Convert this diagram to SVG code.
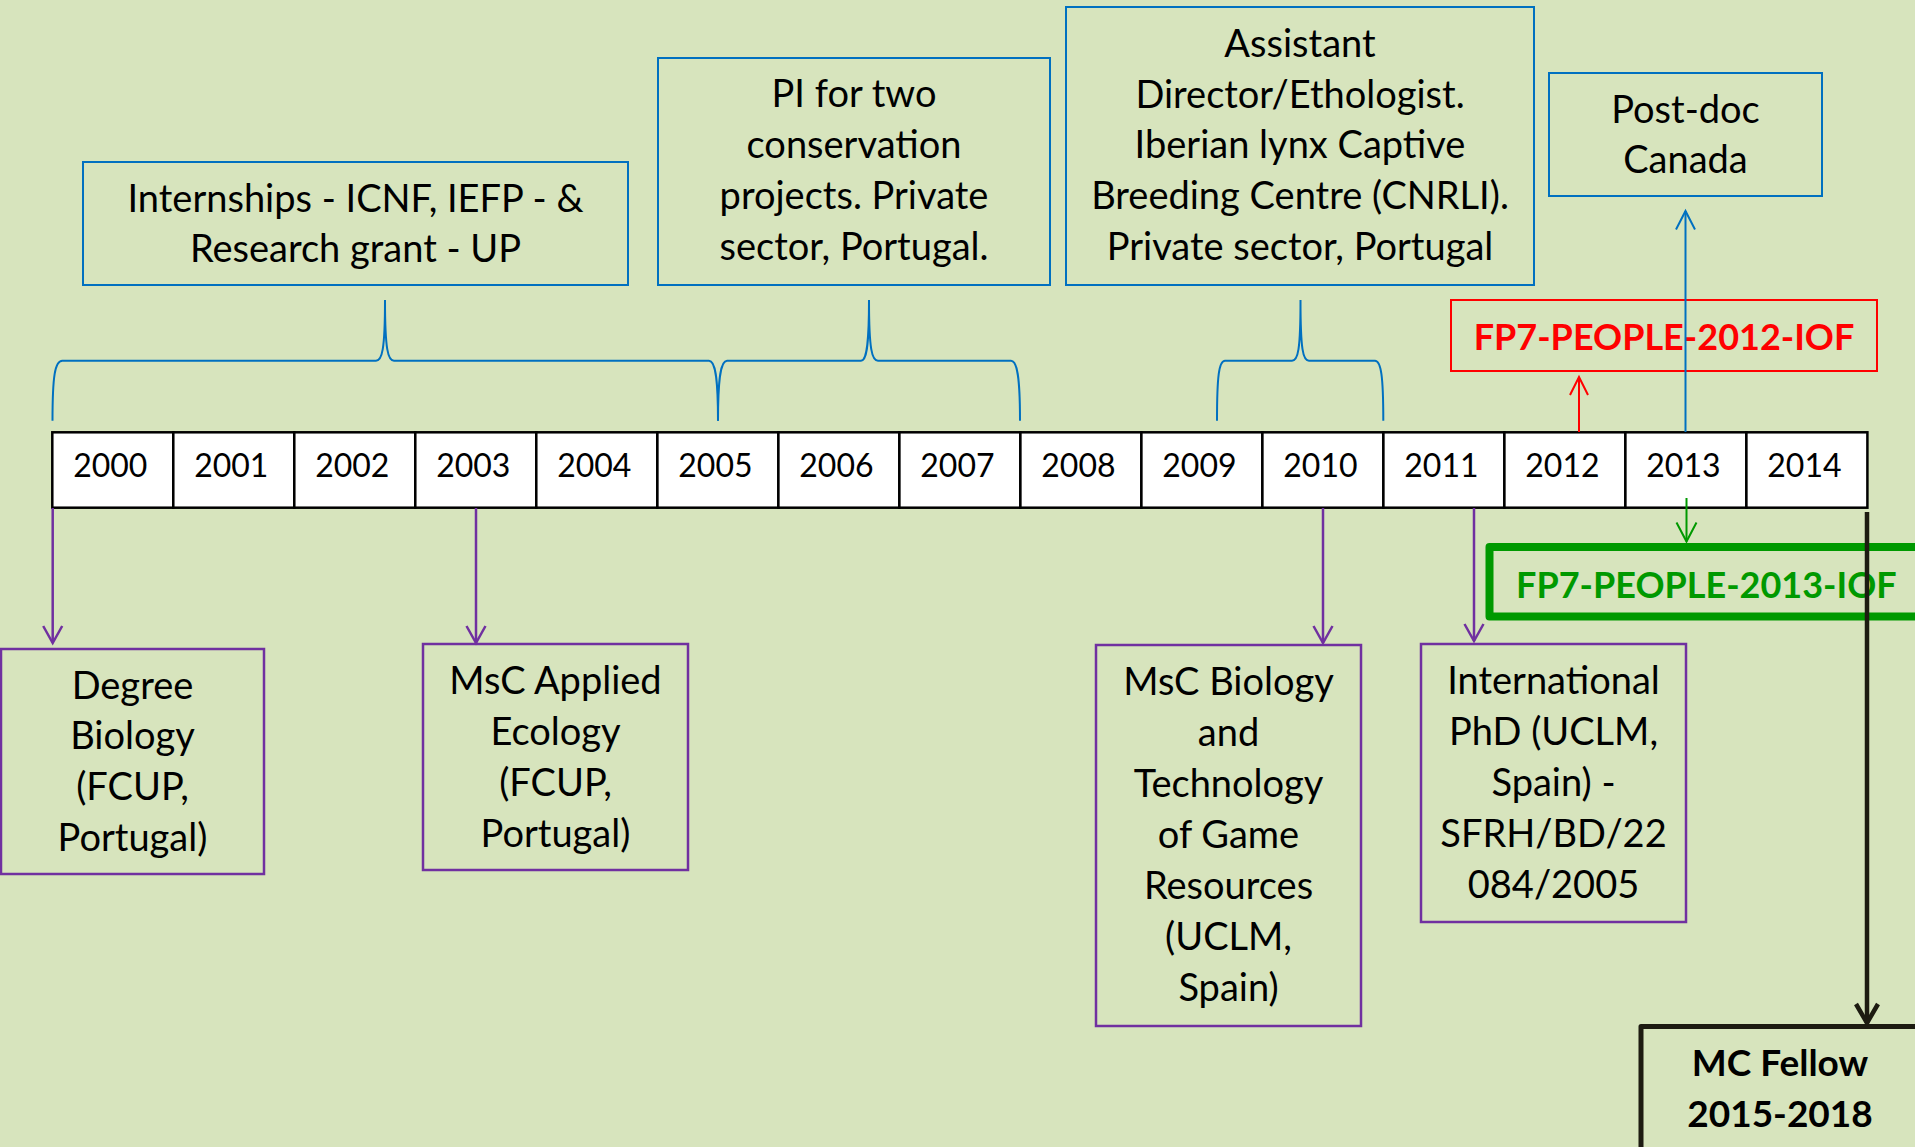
<svg xmlns="http://www.w3.org/2000/svg" width="1915" height="1147" viewBox="0 0 1915 1147">
<style>
  .t { font-family: Lato, "Liberation Sans", sans-serif; font-size: 38px; fill: #000; text-anchor: middle; }
  .yr { font-family: Lato, "Liberation Sans", sans-serif; font-size: 32px; fill: #000; text-anchor: middle; }
  .b { font-family: Lato, "Liberation Sans", sans-serif; font-size: 36px; font-weight: bold; }
  .bm { font-family: Lato, "Liberation Sans", sans-serif; font-size: 37px; font-weight: bold; fill: #000; text-anchor: middle; }
  .bluebox { fill: none; stroke: #0070C0; stroke-width: 2; }
  .purplebox { fill: none; stroke: #7030A0; stroke-width: 2.5; }
  .cell { fill: #FFFFFF; stroke: #000; stroke-width: 2.5; }
  .brace { fill: none; stroke: #0070C0; stroke-width: 2; }
  .pa { fill: none; stroke: #7030A0; stroke-width: 2.5; marker-end: url(#mp); }
</style>
<defs>
  <marker id="mp" markerUnits="userSpaceOnUse" markerWidth="26" markerHeight="26" viewBox="-22 -13 26 26" refX="0" refY="0" orient="auto">
    <path d="M-17,-9.5 L0,0 L-17,9.5" fill="none" stroke="#7030A0" stroke-width="2.5"/>
  </marker>
  <marker id="mr" markerUnits="userSpaceOnUse" markerWidth="26" markerHeight="26" viewBox="-22 -13 26 26" refX="0" refY="0" orient="auto">
    <path d="M-18,-9 L0,0 L-18,9" fill="none" stroke="#FF0000" stroke-width="2"/>
  </marker>
  <marker id="mb" markerUnits="userSpaceOnUse" markerWidth="26" markerHeight="26" viewBox="-22 -13 26 26" refX="0" refY="0" orient="auto">
    <path d="M-18.5,-9.5 L0,0 L-18.5,9.5" fill="none" stroke="#0070C0" stroke-width="2"/>
  </marker>
  <marker id="mg" markerUnits="userSpaceOnUse" markerWidth="26" markerHeight="26" viewBox="-22 -13 26 26" refX="0" refY="0" orient="auto">
    <path d="M-19,-10 L0,0 L-19,10" fill="none" stroke="#009900" stroke-width="2"/>
  </marker>
  <marker id="mk" markerUnits="userSpaceOnUse" markerWidth="30" markerHeight="30" viewBox="-25 -15 30 30" refX="0" refY="0" orient="auto">
    <path d="M-19,-11 L0,0 L-19,11" fill="none" stroke="#1D1B11" stroke-width="4.5"/>
  </marker>
</defs>
<rect x="0" y="0" width="1915" height="1147" fill="#D7E4BD"/>

<g id="box-internships">
  <rect class="bluebox" x="83" y="162" width="545" height="123"/>
  <text class="t" x="355.5" y="212">Internships - ICNF, IEFP - &amp;</text>
  <text class="t" x="355.5" y="262">Research grant - UP</text>
</g>
<g id="box-pi">
  <rect class="bluebox" x="658" y="58" width="392" height="227"/>
  <text class="t" x="854" y="107">PI for two</text>
  <text class="t" x="854" y="158">conservation</text>
  <text class="t" x="854" y="209">projects. Private</text>
  <text class="t" x="854" y="260">sector, Portugal.</text>
</g>
<g id="box-assistant">
  <rect class="bluebox" x="1066" y="7" width="468" height="278"/>
  <text class="t" x="1300" y="57">Assistant</text>
  <text class="t" x="1300" y="108">Director/Ethologist.</text>
  <text class="t" x="1300" y="158">Iberian lynx Captive</text>
  <text class="t" x="1300" y="209">Breeding Centre (CNRLI).</text>
  <text class="t" x="1300" y="260">Private sector, Portugal</text>
</g>
<g id="box-postdoc">
  <rect class="bluebox" x="1549" y="73" width="273" height="123"/>
  <text class="t" x="1685.5" y="123">Post-doc</text>
  <text class="t" x="1685.5" y="173">Canada</text>
</g>
<g id="box-fp7-2012">
  <rect x="1451" y="300" width="426" height="71" fill="none" stroke="#FF0000" stroke-width="2"/>
  <text class="b" x="1664" y="350" fill="#FF0000" text-anchor="middle">FP7-PEOPLE-2012-IOF</text>
</g>

<g id="timeline">
  <rect class="cell" x="52.3" y="432.3" width="121" height="75.4"/>
  <rect class="cell" x="173.3" y="432.3" width="121" height="75.4"/>
  <rect class="cell" x="294.3" y="432.3" width="121" height="75.4"/>
  <rect class="cell" x="415.3" y="432.3" width="121" height="75.4"/>
  <rect class="cell" x="536.3" y="432.3" width="121" height="75.4"/>
  <rect class="cell" x="657.4" y="432.3" width="121" height="75.4"/>
  <rect class="cell" x="778.4" y="432.3" width="121" height="75.4"/>
  <rect class="cell" x="899.4" y="432.3" width="121" height="75.4"/>
  <rect class="cell" x="1020.4" y="432.3" width="121" height="75.4"/>
  <rect class="cell" x="1141.4" y="432.3" width="121" height="75.4"/>
  <rect class="cell" x="1262.4" y="432.3" width="121" height="75.4"/>
  <rect class="cell" x="1383.4" y="432.3" width="121" height="75.4"/>
  <rect class="cell" x="1504.4" y="432.3" width="121" height="75.4"/>
  <rect class="cell" x="1625.4" y="432.3" width="121" height="75.4"/>
  <rect class="cell" x="1746.4" y="432.3" width="121" height="75.4"/>
  <text class="yr" x="110.3" y="477">2000</text>
  <text class="yr" x="231.3" y="477">2001</text>
  <text class="yr" x="352.3" y="477">2002</text>
  <text class="yr" x="473.3" y="477">2003</text>
  <text class="yr" x="594.3" y="477">2004</text>
  <text class="yr" x="715.4" y="477">2005</text>
  <text class="yr" x="836.4" y="477">2006</text>
  <text class="yr" x="957.4" y="477">2007</text>
  <text class="yr" x="1078.4" y="477">2008</text>
  <text class="yr" x="1199.4" y="477">2009</text>
  <text class="yr" x="1320.4" y="477">2010</text>
  <text class="yr" x="1441.4" y="477">2011</text>
  <text class="yr" x="1562.4" y="477">2012</text>
  <text class="yr" x="1683.4" y="477">2013</text>
  <text class="yr" x="1804.4" y="477">2014</text>
</g>

<g id="box-degree">
  <rect class="purplebox" x="1" y="649" width="263" height="225"/>
  <text class="t" x="132.5" y="699">Degree</text>
  <text class="t" x="132.5" y="749">Biology</text>
  <text class="t" x="132.5" y="800">(FCUP,</text>
  <text class="t" x="132.5" y="851">Portugal)</text>
</g>
<g id="box-msc-applied">
  <rect class="purplebox" x="423" y="644" width="265" height="226"/>
  <text class="t" x="555.5" y="694">MsC Applied</text>
  <text class="t" x="555.5" y="745">Ecology</text>
  <text class="t" x="555.5" y="796">(FCUP,</text>
  <text class="t" x="555.5" y="847">Portugal)</text>
</g>
<g id="box-msc-biology">
  <rect class="purplebox" x="1096" y="645" width="265" height="381"/>
  <text class="t" x="1228.5" y="695">MsC Biology</text>
  <text class="t" x="1228.5" y="746">and</text>
  <text class="t" x="1228.5" y="797">Technology</text>
  <text class="t" x="1228.5" y="848">of Game</text>
  <text class="t" x="1228.5" y="899">Resources</text>
  <text class="t" x="1228.5" y="950">(UCLM,</text>
  <text class="t" x="1228.5" y="1001">Spain)</text>
</g>
<g id="box-phd">
  <rect class="purplebox" x="1421" y="644" width="265" height="278"/>
  <text class="t" x="1553.5" y="694">International</text>
  <text class="t" x="1553.5" y="745">PhD (UCLM,</text>
  <text class="t" x="1553.5" y="796">Spain) -</text>
  <text class="t" x="1553.5" y="847">SFRH/BD/22</text>
  <text class="t" x="1553.5" y="898">084/2005</text>
</g>
<g id="box-fp7-2013">
  <rect x="1489.5" y="547" width="500" height="69.5" fill="none" stroke="#009900" stroke-width="8" stroke-linejoin="round"/>
  <text class="b" x="1516" y="597.5" fill="#009900">FP7-PEOPLE-2013-IOF</text>
</g>
<g id="box-mc-fellow">
  <rect x="1641" y="1026.5" width="400" height="200" fill="none" stroke="#1D1B11" stroke-width="5" stroke-linejoin="round"/>
  <text class="bm" x="1780" y="1076">MC Fellow</text>
  <text class="bm" x="1780" y="1127">2015-2018</text>
</g>

<g id="connectors">
  <path class="brace" d="M52.5,420.7 C52.5,376 55,360.7 62.3,360.7 L376,360.7 C382,360.7 385,350 385,300 C385,350 388,360.7 394,360.7 L709,360.7 C715,360.7 718,376 718,420.7"/>
  <path class="brace" d="M718,420.7 C718,376 721,360.7 727,360.7 L861,360.7 C866,360.7 869,350 869,300 C869,350 872,360.7 878,360.7 L1011,360.7 C1017,360.7 1020,376 1020,420.7"/>
  <path class="brace" d="M1217,420.7 C1217,376 1219,360.7 1225,360.7 L1292,360.7 C1298,360.7 1300.5,350 1300.5,300 C1300.5,350 1303,360.7 1309,360.7 L1375,360.7 C1381,360.7 1383.3,376 1383.3,420.7"/>
  <line class="pa" x1="52.7" y1="508" x2="52.7" y2="643"/>
  <line class="pa" x1="476" y1="508" x2="476" y2="643"/>
  <line class="pa" x1="1323" y1="508" x2="1323" y2="643"/>
  <line class="pa" x1="1474" y1="508" x2="1474" y2="641"/>
  <line x1="1579" y1="432" x2="1579" y2="377" stroke="#FF0000" stroke-width="2" marker-end="url(#mr)"/>
  <line x1="1685.5" y1="432" x2="1685.5" y2="211" stroke="#0070C0" stroke-width="2" marker-end="url(#mb)"/>
  <line x1="1686.5" y1="498" x2="1686.5" y2="541.5" stroke="#009900" stroke-width="2" marker-end="url(#mg)"/>
  <line x1="1867" y1="512" x2="1867" y2="1023" stroke="#1D1B11" stroke-width="4.5" marker-end="url(#mk)"/>
</g>
</svg>
